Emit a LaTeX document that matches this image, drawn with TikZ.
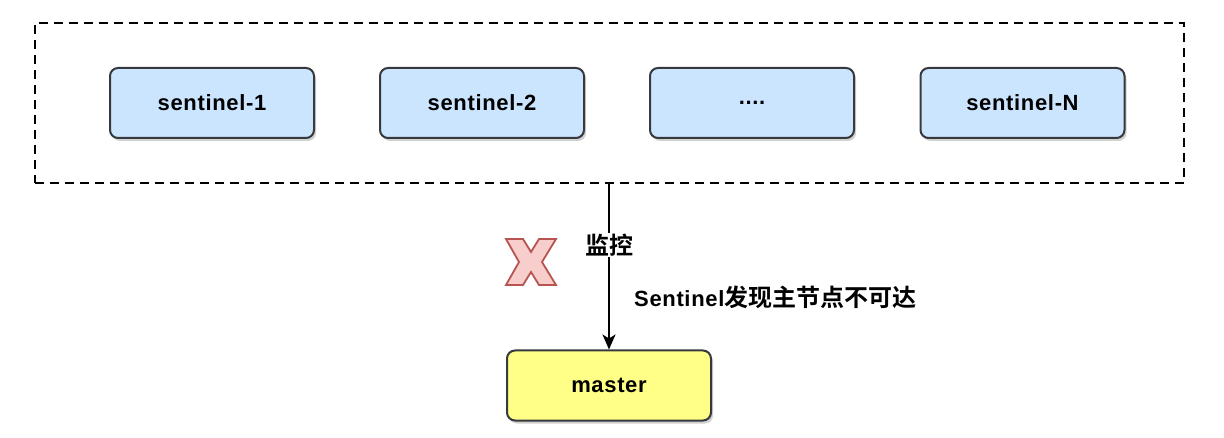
\documentclass[tikz,border=0pt]{standalone}
\usepackage{fontspec}
\setmainfont{Liberation Sans}[LetterSpace=3]
\newfontfamily\cjk{Noto Sans CJK SC}[BoldFont={Noto Sans CJK SC Bold}]
\usetikzlibrary{arrows.meta,shadows}
\definecolor{sentfill}{HTML}{CCE5FF}
\definecolor{mastfill}{HTML}{FFFF88}
\definecolor{edge}{HTML}{36393D}
\definecolor{crossfill}{HTML}{F8CECC}
\definecolor{crossline}{HTML}{B85450}
\tikzset{
  box/.style={draw=edge, line width=2pt, rounded corners=8pt, minimum width=204pt, minimum height=70pt, inner sep=0pt, font=\fontsize{22}{26}\selectfont\bfseries, drop shadow={shadow xshift=2pt, shadow yshift=-3pt, fill=black, opacity=0.18}},
  sentinel/.style={box, fill=sentfill},
  masterbox/.style={box, fill=mastfill},
  group/.style={draw=black, line width=2pt, dash pattern=on 9pt off 6pt, minimum width=1149pt, minimum height=160pt, inner sep=0pt},
  note/.style={inner sep=1pt, font=\fontsize{22}{26}\selectfont\bfseries},
  cjknote/.style={inner sep=1pt, font=\cjk\fontsize{24}{28}\selectfont\bfseries}
}
\begin{document}
\begin{tikzpicture}[x=1pt,y=-1pt]
        \useasboundingbox (0,0) rectangle (1224,438);
        \node [group] (0) at (609.5,103) {};
        \node [sentinel] (1) at (212,103) {sentinel-1};
        \node [sentinel] (2) at (482,103) {sentinel-2};
        \node [sentinel] (3) at (752,103) {....};
        \node [sentinel] (4) at (1022.5,103) {sentinel-N};
        \node [masterbox] (5) at (609,385.5) {master};
        \node [note, anchor=west] (6) at (633,297) {Sentinel{\cjk\fontsize{24}{28}\selectfont\bfseries 发现主节点不可达}};
        \draw [-{Stealth[length=15pt,width=13pt,inset=4pt]}, line width=2pt] (0.south -| 5.north) to node [cjknote, fill=white, pos=0.37] {监控} (5);
        \draw [fill=crossfill, draw=crossline, line width=1.8pt, line join=miter] (506,239) -- (523,239) -- (531,252) -- (539,239) -- (556,239) -- (542,262) -- (556,285) -- (539,285) -- (531,272) -- (523,285) -- (506,285) -- (519,262) -- cycle;
\end{tikzpicture}
\end{document}
